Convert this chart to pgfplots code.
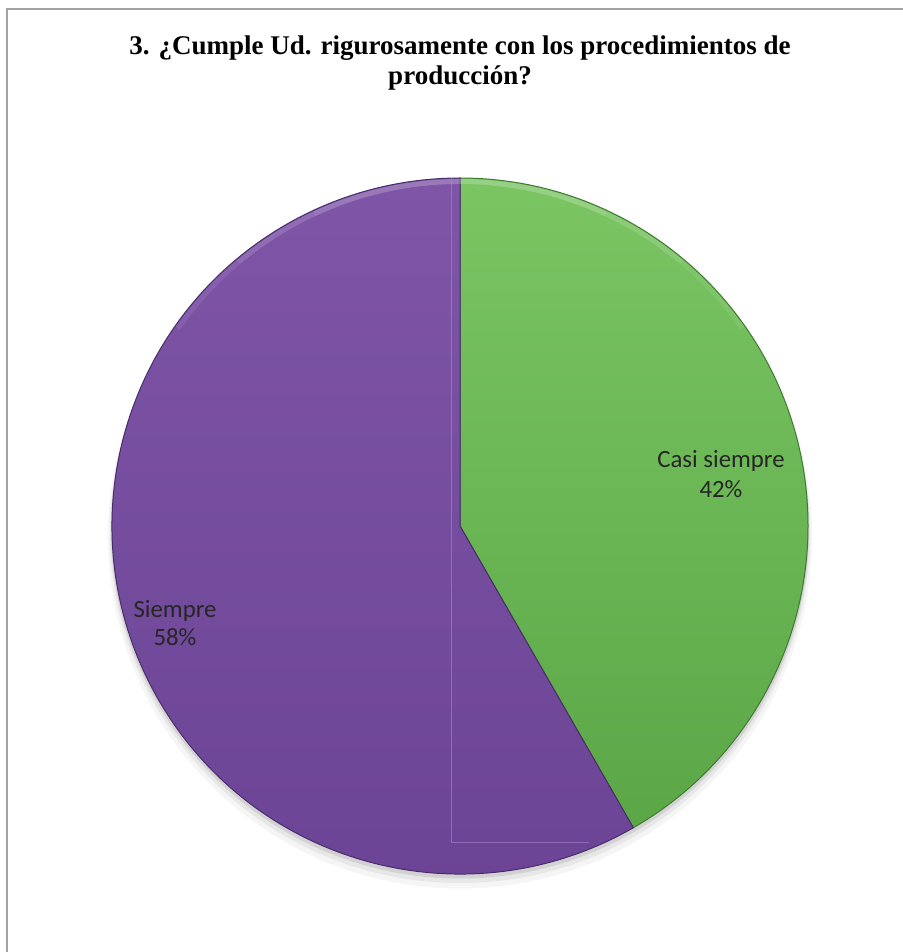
\documentclass[border=0pt]{standalone}
\usepackage{pgfplots}
\pgfplotsset{compat=1.18}
\usepackage{pgfplotstable}
\usepackage{fontspec}
\setmainfont{Liberation Serif}
\newfontfamily\labelfont{Carlito}

\definecolor{greenTop}{HTML}{7BC563}
\definecolor{greenBot}{HTML}{5BA747}
\definecolor{greenEdge}{HTML}{3F7A30}
\definecolor{purpleTop}{HTML}{7E55A7}
\definecolor{purpleBot}{HTML}{6B4395}
\definecolor{purpleEdge}{HTML}{4A2C6C}
\definecolor{frameGray}{HTML}{A3A3A3}
\definecolor{labelText}{HTML}{262626}
\definecolor{boxLine}{HTML}{A28CC4}

% share of each answer, in percent
\pgfplotstableread{
answer value
1 41.7
2 58.3
}\piedata

\begin{document}
\begin{tikzpicture}
	\useasboundingbox (0pt,0pt) rectangle (451pt,-476pt);
	\draw[frameGray, line width=1pt] (3.5pt,-480pt) -- (3.5pt,-4.5pt) -- (455pt,-4.5pt);
	\node[anchor=base, font=\bfseries\fontsize{13.5}{16}\selectfont]
	at (230pt,-27.5pt) {3. ¿Cumple Ud. rigurosamente con los procedimientos de};
	\node[anchor=base, font=\bfseries\fontsize{13.5}{16}\selectfont]
	at (230pt,-42.5pt) {producción?};

	\pgfplotstablegetelem{0}{value}\of\piedata
	\pgfmathsetmacro\angA{90-3.6*\pgfplotsretval}

	\begin{axis}[
			at={(230pt,-263pt)}, anchor=center,
			width=348pt, height=348pt, scale only axis,
			hide axis, clip=false,
			xmin=-1, xmax=1, ymin=-1, ymax=1,
		]
		% soft shadow
		\fill[black, opacity=0.04] (axis cs:0,-0.03) circle[radius=176pt];
		\fill[black, opacity=0.06] (axis cs:0,-0.02) circle[radius=175pt];
		\fill[black, opacity=0.09] (axis cs:0,-0.01) circle[radius=174.5pt];
		% slices
		\shadedraw[top color=greenTop, bottom color=greenBot, draw=greenEdge, line width=0.5pt]
		(axis cs:0,0) -- (axis cs:0,1) arc[start angle=90, end angle=\angA, radius=174pt] -- cycle;
		\shadedraw[top color=purpleTop, bottom color=purpleBot, draw=purpleEdge, line width=0.5pt]
		(axis cs:0,0) -- (axis cs:{cos(\angA)},{sin(\angA)})
		arc[start angle=\angA, end angle=-270, radius=174pt] -- cycle;
		% bevel highlight along the upper rim, fading out to the sides
		\draw[white, opacity=0.08, line width=2.5pt]
		(axis cs:{0.99*cos(145)},{0.99*sin(145)}) arc[start angle=145, end angle=35, radius=172.3pt];
		\draw[white, opacity=0.08, line width=2.5pt]
		(axis cs:{0.99*cos(130)},{0.99*sin(130)}) arc[start angle=130, end angle=50, radius=172.3pt];
		\draw[white, opacity=0.08, line width=2.5pt]
		(axis cs:{0.99*cos(115)},{0.99*sin(115)}) arc[start angle=115, end angle=65, radius=172.3pt];
		\draw[boxLine, opacity=0.6, line width=0.4pt] (axis cs:-0.026,0.999) -- (axis cs:-0.026,-0.908) -- (axis cs:0.37,-0.908);
		% labels
		\node[anchor=base, text=labelText, font=\labelfont\fontsize{12.4}{14}\selectfont]
		at (axis cs:0.75,0.1695) {Casi siempre};
		\node[anchor=base, text=labelText, font=\labelfont\fontsize{12.4}{14}\selectfont]
		at (axis cs:0.75,0.0833) {42\%};
		\node[anchor=base, text=labelText, font=\labelfont\fontsize{12.4}{14}\selectfont]
		at (axis cs:-0.819,-0.2615) {Siempre};
		\node[anchor=base, text=labelText, font=\labelfont\fontsize{12.4}{14}\selectfont]
		at (axis cs:-0.819,-0.342) {58\%};
	\end{axis}
\end{tikzpicture}
\end{document}
